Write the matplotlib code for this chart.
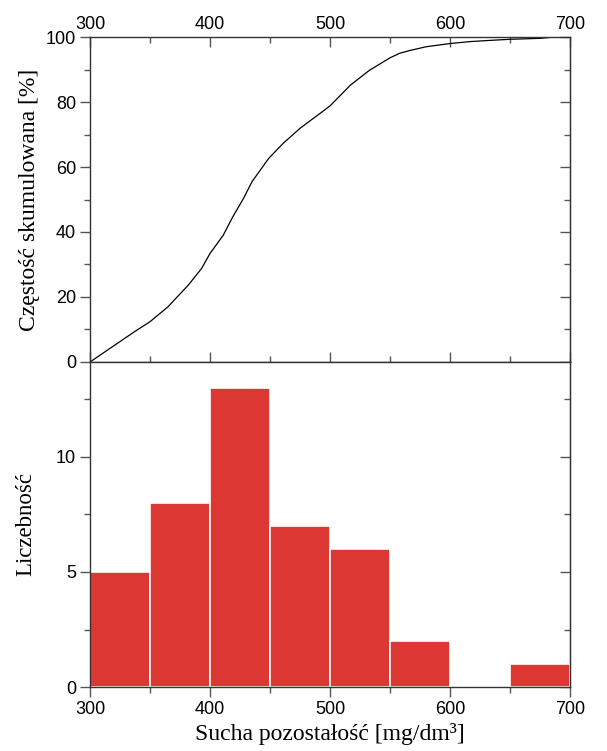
import numpy as np
import matplotlib
matplotlib.use("Agg")
import matplotlib.pyplot as plt
from matplotlib.ticker import MultipleLocator

# cumulative curve
cum_x = [300, 337, 350, 365, 382, 393, 400, 411, 419, 428, 435, 449, 461, 475,
         500, 517, 533, 550, 558, 567, 580, 600, 617, 635, 650, 675, 700]
cum_y = [0, 9.3, 12.4, 17, 23.7, 28.8, 33.4, 39, 44.7, 50.4, 55.5, 62.7, 67.3, 71.9,
         78.8, 85.2, 89.8, 93.6, 95.0, 95.9, 97.0, 98.0, 98.6, 99.0, 99.3, 99.6, 100.4]

# histogram
bin_left = [300, 350, 400, 450, 500, 550, 600, 650]
counts = [5, 8, 13, 7, 6, 2, 0, 1]
bin_w = 50

red = "#dc3733"
tickfont = "Liberation Sans"
labelfont = "Liberation Serif"

fig = plt.figure(figsize=(6.07, 7.51), dpi=100)
ax1 = fig.add_axes([0.1483, 0.518, 0.7908, 0.4327])
ax2 = fig.add_axes([0.1483, 0.0852, 0.7908, 0.4328])

ax1.plot(cum_x, cum_y, color="black", lw=0.9, solid_joinstyle="round")
ax1.set_xlim(300, 700)
ax1.set_ylim(0, 100)
ax1.xaxis.set_major_locator(MultipleLocator(100))
ax1.xaxis.set_minor_locator(MultipleLocator(50))
ax1.yaxis.set_major_locator(MultipleLocator(20))
ax1.yaxis.set_minor_locator(MultipleLocator(10))
ax1.tick_params(axis="x", which="both", direction="in", top=True, bottom=True,
                labeltop=True, labelbottom=False)
ax1.tick_params(axis="y", which="both", direction="out", left=True, right=False)
ax1.set_ylabel("Częstość skumulowana [%]", fontfamily=labelfont, fontsize=17, labelpad=4)

ax2.bar(bin_left, counts, width=bin_w, align="edge", color=red,
        edgecolor="white", linewidth=1.2)
ax2.set_xlim(300, 700)
ax2.set_ylim(0, 14.13)
ax2.xaxis.set_major_locator(MultipleLocator(100))
ax2.xaxis.set_minor_locator(MultipleLocator(50))
ax2.yaxis.set_major_locator(MultipleLocator(5))
ax2.yaxis.set_minor_locator(MultipleLocator(2.5))
ax2.tick_params(axis="x", which="both", direction="out", top=False, bottom=True)
ax2.tick_params(axis="y", which="both", direction="out", left=True, right=False)
ax2.set_ylabel("Liczebność", fontfamily=labelfont, fontsize=16.5, labelpad=14)
ax2.set_xlabel("Sucha pozostałość [mg/dm³]", fontfamily=labelfont, fontsize=17, labelpad=4)

# inward ticks on the right side, as in the original
for ax, maj, mnr in [(ax1, 20, 10), (ax2, 5, 2.5)]:
    r = ax.secondary_yaxis("right")
    r.yaxis.set_major_locator(MultipleLocator(maj))
    r.yaxis.set_minor_locator(MultipleLocator(mnr))
    r.tick_params(which="both", direction="in", labelright=False)
    r.tick_params(which="major", length=7, width=1, color="#555555")
    r.tick_params(which="minor", length=4, width=1, color="#555555")

for ax in (ax1, ax2):
    for s in ax.spines.values():
        s.set_linewidth(1.0)
        s.set_color("#333333")
    ax.tick_params(which="major", length=7, width=1, color="#555555", labelsize=13, pad=3)
    ax.tick_params(which="minor", length=4, width=1, color="#555555")
    for lab in ax.get_xticklabels() + ax.get_yticklabels():
        lab.set_fontfamily(tickfont)

fig.savefig("out.png", dpi=100)
